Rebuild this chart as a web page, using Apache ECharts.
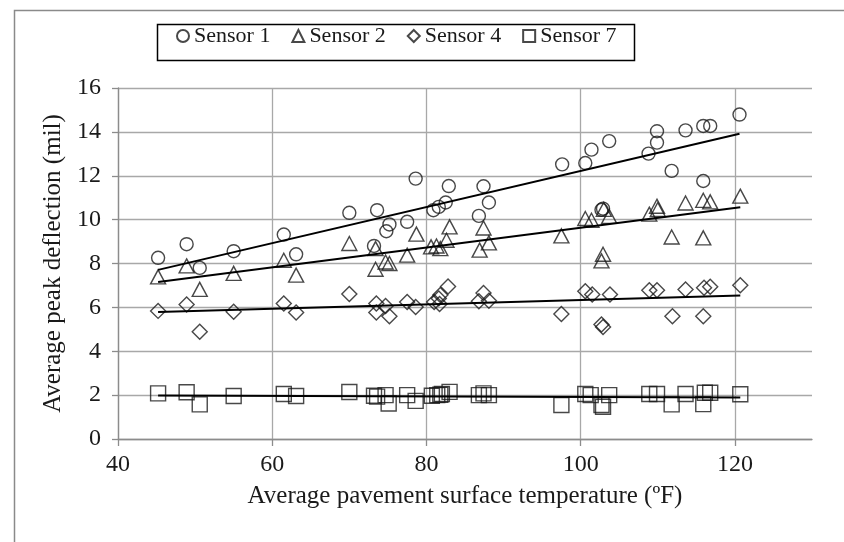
<!DOCTYPE html>
<html>
<head>
<meta charset="utf-8">
<script src="https://cdn.jsdelivr.net/npm/echarts@6/dist/echarts.min.js"></script>
<style>
html,body{margin:0;padding:0;background:#fff;}
#chart{width:844px;height:542px;}
</style>
</head>
<body>
<div id="chart"></div>
<script>
// Sensor data: [temperature (ºF), average peak deflection (mil)]
const sensor1 = [[45.2,8.26],[48.9,8.88],[50.6,7.80],[55.0,8.56],[61.5,9.32],[63.1,8.42],[70.0,10.31],[73.2,8.80],[73.6,10.43],[74.8,9.47],[75.2,9.78],[77.5,9.90],[78.6,11.87],[80.9,10.43],[81.6,10.58],[82.5,10.78],[82.9,11.53],[86.8,10.17],[87.4,11.52],[88.1,10.78],[97.6,12.52],[100.6,12.58],[101.4,13.19],[102.7,10.45],[102.9,10.50],[103.7,13.58],[108.8,13.01],[109.9,13.51],[109.9,14.03],[111.8,12.22],[113.6,14.07],[115.9,14.27],[115.9,11.76],[116.8,14.27],[120.6,14.79]];
const sensor2 = [[45.2,7.39],[48.9,7.89],[50.6,6.82],[55.0,7.55],[61.5,8.15],[63.1,7.47],[70.0,8.91],[73.4,8.68],[73.4,7.74],[74.7,8.07],[75.2,8.00],[77.5,8.38],[78.7,9.34],[80.6,8.76],[81.3,8.80],[81.8,8.68],[82.6,9.06],[83.0,9.67],[86.9,8.61],[87.4,9.62],[88.1,8.94],[97.5,9.26],[100.6,10.05],[101.4,9.97],[102.7,8.12],[102.9,8.42],[103.0,10.47],[103.7,10.15],[108.9,10.25],[109.9,10.61],[110.0,10.46],[111.8,9.21],[113.6,10.76],[115.9,10.88],[115.9,9.17],[116.8,10.81],[120.7,11.07]];
const sensor4 = [[45.2,5.84],[48.9,6.13],[50.6,4.89],[55.0,5.80],[61.5,6.18],[63.1,5.77],[70.0,6.61],[73.5,6.18],[73.5,5.77],[74.7,6.06],[75.2,5.60],[77.5,6.25],[78.6,6.02],[81.0,6.25],[81.6,6.41],[81.8,6.56],[81.7,6.15],[82.8,6.95],[86.8,6.28],[87.4,6.66],[88.1,6.30],[97.5,5.70],[100.6,6.74],[101.5,6.59],[102.7,5.22],[102.9,5.11],[103.8,6.59],[108.9,6.78],[109.9,6.78],[111.9,5.60],[113.6,6.82],[115.9,5.60],[116.0,6.89],[116.8,6.94],[120.7,7.01]];
const sensor7 = [[45.2,2.08],[48.9,2.13],[50.6,1.58],[55.0,1.96],[61.5,2.05],[63.1,1.96],[70.0,2.14],[73.2,1.97],[73.6,1.93],[74.7,2.00],[75.1,1.62],[77.5,2.00],[78.6,1.74],[80.7,1.97],[81.4,2.00],[81.8,2.02],[82.0,2.05],[83.0,2.15],[86.8,2.00],[87.4,2.08],[88.1,2.00],[97.5,1.55],[100.6,2.05],[101.3,2.00],[102.7,1.55],[102.9,1.47],[103.7,2.00],[108.9,2.05],[109.9,2.05],[111.8,1.58],[113.6,2.05],[115.9,1.59],[116.1,2.11],[116.8,2.11],[120.7,2.04]];

const seriesNames = ['Sensor 1','Sensor 2','Sensor 4','Sensor 7'];
const xTickLabels = [40,60,80,100,120];
const yTickLabels = [0,2,4,6,8,10,12,14,16];

// least-squares linear trendline over the data range
function trend(data){
  const n = data.length;
  let sx=0, sy=0, sxx=0, sxy=0, mn=Infinity, mx=-Infinity;
  data.forEach(([x,y])=>{sx+=x;sy+=y;sxx+=x*x;sxy+=x*y;mn=Math.min(mn,x);mx=Math.max(mx,x);});
  const b=(n*sxy-sx*sy)/(n*sxx-sx*sx);
  const a=(sy-b*sx)/n;
  return [[mn,a+b*mn],[mx,a+b*mx]];
}

const FONT = '"Liberation Serif","Times New Roman",serif';
const INK = '#1a1a1a';
const marker = {color:'rgba(0,0,0,0)', borderColor:INK, borderWidth:1.4};

function scatter(name, data, symbol, size){
  return {name, type:'scatter', data, symbol, symbolSize:size, itemStyle:marker,
          emphasis:{disabled:true}, z:3};
}
function line(data){
  return {type:'line', data:trend(data), symbol:'none', silent:true,
          lineStyle:{color:'#000', width:2}, z:4};
}

const chart = echarts.init(document.getElementById('chart'), null, {renderer:'canvas'});
chart.setOption({
  animation:false,
  backgroundColor:'#fff',
  textStyle:{fontFamily:FONT},
  grid:{left:118, right:32, top:88, bottom:103},
  legend:{
    data:seriesNames,
    left:176, top:25, itemGap:21, itemWidth:12, itemHeight:12, padding:0,
    textStyle:{fontFamily:FONT, fontSize:22, color:INK},
    selectedMode:false
  },
  graphic:[
    {type:'rect', left:12, top:8, shape:{x:0,y:0,width:850,height:560}, silent:true,
     style:{fill:'none', stroke:'#8a8a8a', lineWidth:1.5}, z:-1},
    {type:'rect', left:155, top:22, shape:{x:0,y:0,width:477,height:36}, silent:true,
     style:{fill:'none', stroke:'#000', lineWidth:1.5}}
  ],
  xAxis:{
    type:'value', min:40, max:130, interval:10,
    name:'Average pavement surface temperature (ºF)', nameLocation:'middle', nameGap:45,
    nameTextStyle:{fontFamily:FONT, fontSize:25, color:INK},
    axisLine:{show:true, lineStyle:{color:'#8c8c8c', width:1.3}},
    axisTick:{show:true, length:7, lineStyle:{color:'#8c8c8c', width:1.3}, customValues:xTickLabels},
    axisLabel:{fontFamily:FONT, fontSize:24, color:INK, margin:14, customValues:xTickLabels},
    splitLine:{show:true, lineStyle:{color:'#a8a8a8', width:1.3}}
  },
  yAxis:{
    type:'value', min:0, max:16, interval:2,
    name:'Average peak deflection (mil)', nameLocation:'middle', nameGap:50,
    nameTextStyle:{fontFamily:FONT, fontSize:25, color:INK},
    axisLine:{show:true, lineStyle:{color:'#8c8c8c', width:1.3}},
    axisTick:{show:true, length:6, lineStyle:{color:'#8c8c8c', width:1.3}, customValues:yTickLabels},
    axisLabel:{fontFamily:FONT, fontSize:24, color:INK, margin:17, customValues:yTickLabels},
    splitLine:{show:true, lineStyle:{color:'#a8a8a8', width:1.3}}
  },
  series:[
    scatter('Sensor 1', sensor1, 'circle', 13),
    scatter('Sensor 2', sensor2, 'triangle', [15,14]),
    scatter('Sensor 4', sensor4, 'diamond', [15,15]),
    scatter('Sensor 7', sensor7, 'rect', [15,15]),
    line(sensor1), line(sensor2), line(sensor4), line(sensor7)
  ]
});
</script>
</body>
</html>
